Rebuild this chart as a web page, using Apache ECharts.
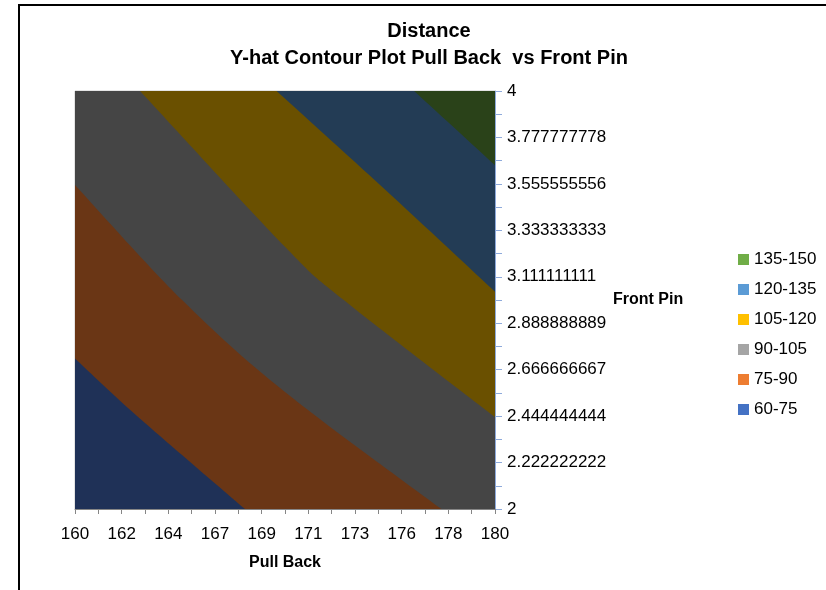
<!DOCTYPE html>
<html>
<head>
<meta charset="utf-8">
<style>
  html, body { margin: 0; padding: 0; background: #fff; }
  #chart { width: 826px; height: 590px; }
</style>
<script src="https://cdn.jsdelivr.net/npm/echarts@6/dist/echarts.min.js"></script>
</head>
<body>
<div id="chart"></div>
<script>
// Fitted distance surface, Pull Back (x) vs Front Pin (y).
const X_MIN = 160, X_MAX = 180;
const Y_MIN = 2, Y_MAX = 4;

const xTickLabels = ['160', '162', '164', '167', '169', '171', '173', '176', '178', '180'];
const yTickLabels = ['2', '2.222222222', '2.444444444', '2.666666667', '2.888888889',
  '3.111111111', '3.333333333', '3.555555556', '3.777777778', '4'];

// Contour bands, lowest first
const bandNames = ['60-75', '75-90', '90-105', '105-120', '120-135', '135-150'];

// Contour lines [Pull Back, Front Pin] separating neighbouring bands
const contour75 = [[160, 2.72], [162.9, 2.45], [168.1, 2.0]];
const contour90 = [[160, 3.55], [165.1, 3.0], [170.0, 2.56], [177.45, 2.0]];
const contour105 = [[163.1, 4.0], [170.0, 3.255], [172.8, 3.0], [180, 2.44]];
const contour120 = [[169.6, 4.0], [174.75, 3.53], [180, 3.04]];
const contour135 = [[176.15, 4.0], [180, 3.645]];
const contours = [contour75, contour90, contour105, contour120, contour135];

// Legend swatches and the shaded fills used on the surface
const legendColors = ['#4472C4', '#ED7D31', '#A5A5A5', '#FFC000', '#5B9BD5', '#70AD47'];
const fillColors = ['#1F3157', '#6A3615', '#454545', '#6A5000', '#233C55', '#2A4219'];

// Smooth path through pixel points (Catmull-Rom as cubic Beziers)
function curvePath(px) {
  let d = 'M' + px[0][0] + ' ' + px[0][1];
  for (let i = 0; i < px.length - 1; i++) {
    const p0 = px[Math.max(i - 1, 0)], p1 = px[i], p2 = px[i + 1], p3 = px[Math.min(i + 2, px.length - 1)];
    const c1 = [p1[0] + (p2[0] - p0[0]) / 6, p1[1] + (p2[1] - p0[1]) / 6];
    const c2 = [p2[0] - (p3[0] - p1[0]) / 6, p2[1] - (p3[1] - p1[1]) / 6];
    d += ' C' + c1[0] + ' ' + c1[1] + ' ' + c2[0] + ' ' + c2[1] + ' ' + p2[0] + ' ' + p2[1];
  }
  return d;
}

// Outline of the region at or above a band's lower contour (toward the upper-right)
function bandPath(k, api) {
  const c = function (p) { return api.coord(p); };
  if (k === 0) {
    const r = [[X_MIN, Y_MIN], [X_MAX, Y_MIN], [X_MAX, Y_MAX], [X_MIN, Y_MAX]].map(c);
    return 'M' + r.map(function (p) { return p[0] + ' ' + p[1]; }).join(' L') + ' Z';
  }
  const line = contours[k - 1];
  const start = line[0], end = line[line.length - 1];
  const corners = [];
  if (end[1] === Y_MIN) corners.push([X_MAX, Y_MIN]);
  corners.push([X_MAX, Y_MAX]);
  if (start[0] === X_MIN) corners.push([X_MIN, Y_MAX]);
  let d = curvePath(line.map(c));
  corners.map(c).forEach(function (p) { d += ' L' + p[0] + ' ' + p[1]; });
  return d + ' Z';
}

const series = bandNames.map(function (name, k) {
  return {
    type: 'custom',
    name: name,
    coordinateSystem: 'cartesian2d',
    itemStyle: { color: legendColors[k] },
    data: [[X_MIN, Y_MIN]],
    silent: true,
    renderItem: function (params, api) {
      return {
        type: 'path',
        shape: { pathData: bandPath(k, api) },
        style: { fill: fillColors[k], stroke: null }
      };
    }
  };
});

const FONT = "'Liberation Sans', Arial, sans-serif";

const chart = echarts.init(document.getElementById('chart'), null, { renderer: 'canvas' });
chart.setOption({
  animation: false,
  backgroundColor: '#ffffff',
  title: {
    text: 'Distance\nY-hat Contour Plot Pull Back  vs Front Pin',
    left: 424,
    top: 13,
    textAlign: 'center',
    textStyle: { fontFamily: FONT, fontSize: 20, fontWeight: 'bold', color: '#000', lineHeight: 27 }
  },
  legend: {
    orient: 'vertical',
    left: 733,
    top: 245,
    itemWidth: 11,
    itemHeight: 11,
    itemGap: 11,
    icon: 'rect',
    selectedMode: false,
    data: bandNames.slice().reverse(),
    textStyle: { fontFamily: FONT, fontSize: 17, color: '#000', lineHeight: 19 }
  },
  grid: {
    left: 75, right: 331, top: 91, bottom: 81,
    show: true, borderColor: '#c8c8c8', borderWidth: 1, backgroundColor: 'transparent'
  },
  xAxis: {
    type: 'value',
    min: X_MIN, max: X_MAX, interval: 20 / 9,
    name: 'Pull Back',
    nameLocation: 'middle',
    nameGap: 46,
    nameTextStyle: { fontFamily: FONT, fontSize: 16, fontWeight: 'bold', color: '#000' },
    axisLine: { show: true, lineStyle: { color: '#868686', width: 1 } },
    axisTick: { show: true, length: 5, lineStyle: { color: '#868686' } },
    minorTick: { show: true, splitNumber: 2, length: 5, lineStyle: { color: '#868686' } },
    splitLine: { show: false },
    axisLabel: {
      margin: 17,
      fontFamily: FONT, fontSize: 17, color: '#000',
      formatter: function (v) {
        const i = Math.round((v - X_MIN) / (20 / 9));
        return xTickLabels[i] !== undefined ? xTickLabels[i] : '';
      }
    }
  },
  yAxis: {
    type: 'value',
    position: 'right',
    min: Y_MIN, max: Y_MAX, interval: 2 / 9,
    name: 'Front Pin',
    nameLocation: 'middle',
    nameRotate: 0,
    nameGap: 118,
    nameTextStyle: { fontFamily: FONT, fontSize: 16, fontWeight: 'bold', color: '#000', align: 'left', padding: [6, 0, 0, 0] },
    axisLine: { show: true, lineStyle: { color: '#8EAADB', width: 1 } },
    axisTick: { show: true, length: 7, lineStyle: { color: '#8EAADB' } },
    minorTick: { show: true, splitNumber: 2, length: 7, lineStyle: { color: '#8EAADB' } },
    splitLine: { show: false },
    axisLabel: {
      margin: 12,
      fontFamily: FONT, fontSize: 17, color: '#000',
      formatter: function (v) {
        const i = Math.round((v - Y_MIN) / (2 / 9));
        return yTickLabels[i] !== undefined ? yTickLabels[i] : '';
      }
    }
  },
  graphic: [{
    type: 'polyline',
    shape: { points: [[19, 590], [19, 5], [826, 5]] },
    style: { stroke: '#000', lineWidth: 2, fill: null }
  }],
  series: series
});
</script>
</body>
</html>
